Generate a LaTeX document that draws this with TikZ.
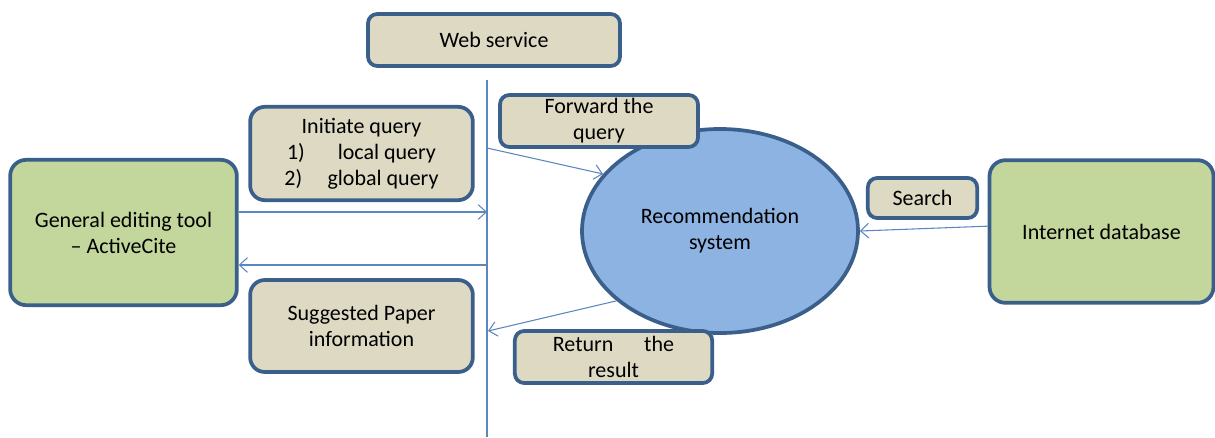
\documentclass[tikz,border=0pt]{standalone}
\usepackage{fontspec}
\setmainfont{Carlito}
\usetikzlibrary{arrows.meta,shapes.geometric}
\definecolor{tanfill}{HTML}{DDD9C3}
\definecolor{greenfill}{HTML}{C3D69B}
\definecolor{bluefill}{HTML}{8DB3E2}
\definecolor{edgeblue}{HTML}{3A5F8B}
\definecolor{lineblue}{HTML}{5B86C0}
\begin{document}
\begin{tikzpicture}[x=0.75pt, y=-0.75pt,
  every node/.style={font=\fontsize{16.5}{19.5}\selectfont, align=center},
  labelbox/.style={draw=edgeblue, line width=2.8pt, fill=tanfill, rounded corners=7pt, inner sep=1pt},
  endbox/.style={draw=edgeblue, line width=2.8pt, fill=greenfill, rounded corners=12pt,
    minimum width=168pt, minimum height=107pt},
  arr/.style={draw=lineblue, line width=0.8pt, -{Straight Barb[length=6pt,width=11pt]}}]
\useasboundingbox (0,0) rectangle (1215,437);
% the web service border
\coordinate (top) at (487,80);
\coordinate (bot) at (487,437);
\draw[lineblue, line width=0.8pt] (top) -- (bot);
\node[labelbox, minimum width=189pt, minimum height=39pt] (web) at (494,40) {Web service};
% the two ends
\node[endbox, minimum width=170pt, minimum height=109pt] (tool) at (123.5,232.5) {General editing tool\\ -- ActiveCite};
\node[endbox] (inet) at (1101.5,231.5) {Internet database};
\node[ellipse, draw=edgeblue, line width=2.8pt, fill=bluefill, minimum width=207pt, minimum height=153pt] (rec) at (720,231) {Recommendation\\system};
% labels
\node[labelbox, rounded corners=11pt, minimum width=167pt, minimum height=70pt] (init) at (361.5,153.5) {Initiate query\\1)\hspace{1.5em}local query\\2)\hspace{1.15em}global query};
\node[labelbox, rounded corners=11pt, minimum width=167pt, minimum height=69pt] (sugg) at (361.5,326) {Suggested Paper\\information};
\node[labelbox, minimum width=148.5pt, minimum height=39pt, inner sep=0pt] (fwd) at (599,121) {Forward the\\query};
\node[labelbox, minimum width=82pt, minimum height=30pt] (search) at (922.5,198) {Search};
\node[labelbox, minimum width=148pt, minimum height=39pt, inner sep=0pt] (ret) at (613.5,357) {Return\hspace{1.4em}the\\result};
% arrows
\coordinate (l1) at (487,212);
\coordinate (l2) at (487,265);
\coordinate (l3) at (487,148);
\coordinate (l4) at (488,331);
\draw[arr] (tool.east |- l1) -- (l1);
\draw[arr] (l2) -- (tool.east |- l2);
\draw[arr] (l3) -- (rec.154);
\draw[arr] (rec.214) -- (l4);
\draw[arr] ([yshift=4pt]inet.west) -- (rec.east);
\end{tikzpicture}
\end{document}
